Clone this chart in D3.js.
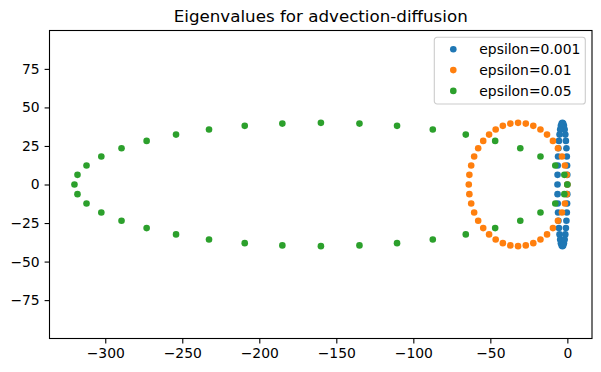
<!DOCTYPE html>
<html>
<head>
<meta charset="utf-8">
<script src="https://cdn.jsdelivr.net/npm/d3@7"></script>
<style>
  body { margin: 0; background: #fff; }
  svg { display: block; font-family: "DejaVu Sans", sans-serif; }
</style>
</head>
<body>
<svg id="chart" width="601" height="372"></svg>
<script>
// imaginary parts, shared by all three runs
var imagPart = [0, 6.26, 12.36, 18.16, 23.51, 28.28, 32.36, 35.64, 38.04, 39.51,
  40, 39.51, 38.04, 35.64, 32.36, 28.28, 23.51, 18.16, 12.36, 6.26,
  0, -6.26, -12.36, -18.16, -23.51, -28.28, -32.36, -35.64, -38.04, -39.51,
  -40, -39.51, -38.04, -35.64, -32.36, -28.28, -23.51, -18.16, -12.36, -6.26];

// real parts per epsilon
var realEps001 = [0, -0.04, -0.16, -0.35, -0.61, -0.94, -1.32, -1.75, -2.21, -2.70,
  -3.2, -3.70, -4.19, -4.65, -5.08, -5.46, -5.79, -6.05, -6.24, -6.36,
  -6.4, -6.36, -6.24, -6.05, -5.79, -5.46, -5.08, -4.65, -4.19, -3.70,
  -3.2, -2.70, -2.21, -1.75, -1.32, -0.94, -0.61, -0.35, -0.16, -0.04];

var realEps01 = [0, -0.39, -1.57, -3.49, -6.11, -9.37, -13.19, -17.47, -22.11, -26.99,
  -32, -37.01, -41.89, -46.53, -50.81, -54.63, -57.89, -60.51, -62.43, -63.61,
  -64, -63.61, -62.43, -60.51, -57.89, -54.63, -50.81, -46.53, -41.89, -37.01,
  -32, -26.99, -22.11, -17.47, -13.19, -9.37, -6.11, -3.49, -1.57, -0.39];

var realEps05 = [0, -1.97, -7.83, -17.44, -30.56, -46.86, -65.95, -87.36, -110.56, -134.97,
  -160, -185.03, -209.44, -232.64, -254.05, -273.14, -289.44, -302.56, -312.17, -318.03,
  -320, -318.03, -312.17, -302.56, -289.44, -273.14, -254.05, -232.64, -209.44, -185.03,
  -160, -134.97, -110.56, -87.36, -65.95, -46.86, -30.56, -17.44, -7.83, -1.97];

var seriesLabels = ["epsilon=0.001", "epsilon=0.01", "epsilon=0.05"];
var seriesColors = ["#1f77b4", "#ff7f0e", "#2ca02c"];
var xTicks = [-300, -250, -200, -150, -100, -50, 0];
var yTicks = [-75, -50, -25, 0, 25, 50, 75];

var svg = d3.select("#chart");
var margin = { top: 30.5, right: 9, bottom: 33.5, left: 49.5 };
var width = 601 - margin.left - margin.right;
var height = 372 - margin.top - margin.bottom;

var x = d3.scaleLinear().domain([-336.2, 16]).range([0, width]);
var y = d3.scaleLinear().domain([-99.9, 99.9]).range([height, 0]);

var g = svg.append("g").attr("transform", "translate(" + margin.left + "," + margin.top + ")");

var series = [realEps001, realEps01, realEps05].map(function (re, i) {
    return {
        label: seriesLabels[i],
        color: seriesColors[i],
        points: re.map(function (v, k) { return { re: v, im: imagPart[k] }; })
    };
});

g.selectAll("g.series")
    .data(series)
    .enter().append("g")
    .attr("class", "series")
    .attr("fill", function (d) { return d.color; })
    .selectAll("circle")
    .data(function (d) { return d.points; })
    .enter().append("circle")
    .attr("cx", function (d) { return x(d.re); })
    .attr("cy", function (d) { return y(d.im); })
    .attr("r", 3.3);

// axes
var xAxis = g.append("g")
    .attr("transform", "translate(0," + height + ")")
    .call(d3.axisBottom(x).tickValues(xTicks).tickSize(4.9).tickPadding(4.9));
var yAxis = g.append("g")
    .call(d3.axisLeft(y).tickValues(yTicks).tickSize(4.9).tickPadding(4.9));

[xAxis, yAxis].forEach(function (a) {
    a.select(".domain").remove();
    a.selectAll("line").attr("stroke", "#000").attr("stroke-width", 1.1);
    a.selectAll("text")
        .attr("fill", "#000")
        .style("font-family", "DejaVu Sans")
        .style("font-size", "13.9px");
});

g.append("rect")
    .attr("width", width)
    .attr("height", height)
    .attr("fill", "none")
    .attr("stroke", "#000")
    .attr("stroke-width", 1.1);

svg.append("text")
    .attr("x", margin.left + width / 2)
    .attr("y", margin.top - 8.6)
    .attr("text-anchor", "middle")
    .style("font-size", "16.7px")
    .attr("fill", "#000")
    .text("Eigenvalues for advection-diffusion");

// legend
var legend = g.append("g").attr("transform", "translate(" + (width - 157.7) + ",6.8)");
legend.append("rect")
    .attr("width", 151)
    .attr("height", 66.7)
    .attr("rx", 2.8)
    .attr("fill", "#fff")
    .attr("fill-opacity", 0.8)
    .attr("stroke", "#cccccc")
    .attr("stroke-width", 1.1);

var item = legend.selectAll("g.item")
    .data(series)
    .enter().append("g")
    .attr("class", "item")
    .attr("transform", function (d, i) { return "translate(0," + (12 + i * 20.8) + ")"; });

item.append("circle")
    .attr("cx", 19)
    .attr("r", 3.3)
    .attr("fill", function (d) { return d.color; });

item.append("text")
    .attr("x", 45)
    .attr("dy", "0.36em")
    .style("font-size", "13.9px")
    .attr("fill", "#000")
    .text(function (d) { return d.label; });
</script>
</body>
</html>
